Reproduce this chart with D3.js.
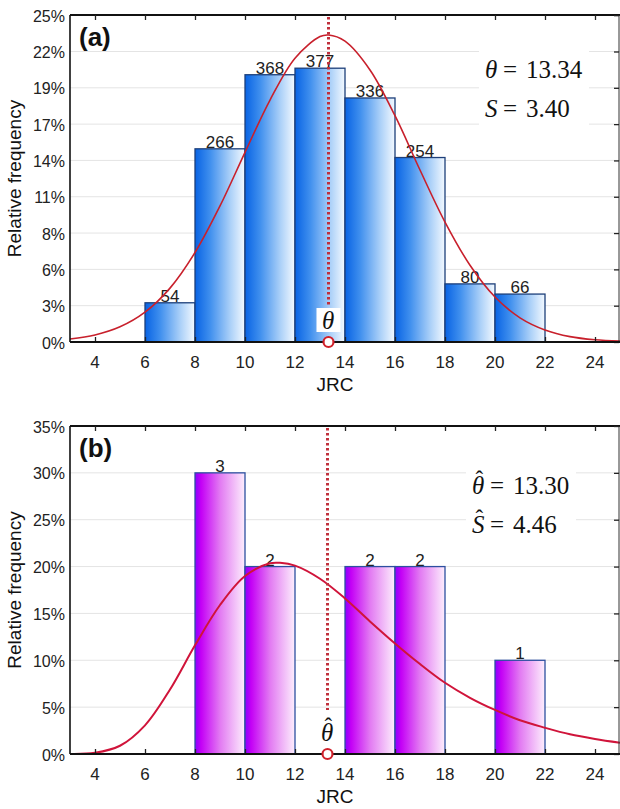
<!DOCTYPE html>
<html>
<head>
<meta charset="utf-8">
<script src="https://cdn.jsdelivr.net/npm/d3@7"></script>
<style>
  body { margin: 0; background: #fff; }
  svg { display: block; }
  .tick-lab { font-family: "Liberation Sans Narrow", "Arial Narrow", "Liberation Sans", sans-serif; fill: #222; }
  .ax-title { font-family: "Liberation Sans", Arial, sans-serif; fill: #111; }
  .note { font-family: "Liberation Serif", "Times New Roman", serif; fill: #111; }
</style>
</head>
<body>
<svg id="fig" width="620" height="809"></svg>
<script>
// ---- data ----
const xTicks = [4, 6, 8, 10, 12, 14, 16, 18, 20, 22, 24];

// panel (a): JRC of all profiles, bin width 2
const binStartsA = [6, 8, 10, 12, 14, 16, 18, 20];
const countsA = [54, 266, 368, 377, 336, 254, 80, 66];
const totalA = 1801;
const yTickCountsA = [0, 50, 100, 150, 200, 250, 300, 350, 400, 450];
// fitted curve (relative frequency, %)
const curveXA = [3, 4, 5, 6, 7, 8, 9, 10, 11, 12, 13, 13.34, 14, 15, 16, 17, 18, 19, 20, 21, 22, 23, 24, 25];
const curveYA = [0.23, 0.54, 1.16, 2.28, 4.12, 6.84, 10.4, 14.5, 18.5, 21.7, 23.35, 23.47, 23.0, 20.8, 17.3, 13.15, 9.17, 5.87, 3.44, 1.85, 0.92, 0.41, 0.17, 0.07];
const thetaA = 13.34, sA = 3.40;

// panel (b): sample of 10 profiles
const binStartsB = [8, 10, 14, 16, 20];
const countsB = [3, 2, 2, 2, 1];
const totalB = 10;
const yTicksB = [0, 5, 10, 15, 20, 25, 30, 35];
const curveXB = [3, 4, 5, 6, 7, 8, 9, 10, 11, 11.4, 12, 13, 14, 15, 16, 17, 18, 19, 20, 21, 22, 23, 24, 25];
const curveYB = [0.01, 0.13, 0.88, 3.06, 6.88, 11.6, 15.9, 19.0, 20.35, 20.4, 20.1, 18.7, 16.6, 14.15, 11.8, 9.6, 7.6, 6.0, 4.7, 3.6, 2.8, 2.1, 1.6, 1.2];
const thetaB = 13.30, sB = 4.46;

const svg = d3.select("#fig");
const defs = svg.append("defs");

function grad(id, stops) {
    let g = defs.append("linearGradient").attr("id", id)
        .attr("x1", 0).attr("x2", 1).attr("y1", 0).attr("y2", 0);
    stops.forEach(s => g.append("stop").attr("offset", s[0]).attr("stop-color", s[1]));
}
grad("gBlue", [[0, "#0863e4"], [0.3, "#3f8fee"], [0.7, "#a9cff8"], [1, "#f3f9ff"]]);
grad("gPink", [[0, "#8a00ff"], [0.12, "#c400f6"], [0.5, "#e27af2"], [1, "#fdeefd"]]);

const xScale = d3.scaleLinear().domain([3, 25]).range([70, 620]);

// italic letter with an optional hat, written as tspans of one text
function symbol(t, letter, x, y, hat) {
    t.append("tspan").attr("x", x).attr("y", y)
        .style("font-style", "italic").text(letter);
    if (hat) {
        t.append("tspan").attr("x", x + 3.6).attr("y", y - 7)
            .style("font-size", "23px").text("\u02c6");
    }
}

function panel(o) {
    let g = svg.append("g");
    let y = o.yScale;
    let top = y.range()[1], bot = y.range()[0];

    // grid
    g.selectAll(".grid").data(o.yTicks).enter().append("line")
        .attr("x1", 70).attr("x2", 620)
        .attr("y1", d => y(d)).attr("y2", d => y(d))
        .style("stroke", "#e4e4e4").style("stroke-width", 1);

    // bars
    g.selectAll(".bar").data(o.bins).enter().append("rect")
        .attr("x", (d, i) => xScale(d))
        .attr("y", (d, i) => y(o.counts[i] / o.total * 100))
        .attr("width", d => xScale(d + 2) - xScale(d))
        .attr("height", (d, i) => bot - y(o.counts[i] / o.total * 100))
        .style("fill", `url(#${o.fill})`)
        .style("stroke", o.stroke)
        .style("stroke-width", 1.3);

    // counts above bars
    g.selectAll(".cnt").data(o.bins).enter().append("text")
        .attr("class", "tick-lab")
        .attr("x", d => xScale(d + 1))
        .attr("y", (d, i) => y(o.counts[i] / o.total * 100) - 1)
        .attr("text-anchor", "middle")
        .style("font-size", "17px")
        .text((d, i) => o.counts[i]);

    // fitted curve
    let line = d3.line()
        .x((d, i) => xScale(o.cx[i]))
        .y(d => y(d))
        .curve(d3.curveCatmullRom);
    g.append("path").datum(o.cy)
        .attr("d", line)
        .style("fill", "none")
        .style("stroke", o.curveColor)
        .style("stroke-width", o.curveWidth);

    // theta marker
    let tx = xScale(o.theta);
    g.append("line")
        .attr("x1", tx).attr("x2", tx)
        .attr("y1", top + 2).attr("y2", o.dotEnd)
        .style("stroke", "#c0303c").style("stroke-width", 3)
        .style("stroke-dasharray", "2.5,2.5");

    // axes frame
    g.append("line").attr("x1", 70).attr("x2", 620).attr("y1", top).attr("y2", top)
        .style("stroke", "#111").style("stroke-width", 2);
    g.append("line").attr("x1", 70).attr("x2", 70).attr("y1", top).attr("y2", bot)
        .style("stroke", "#111").style("stroke-width", 1.6);
    g.append("line").attr("x1", 619).attr("x2", 619).attr("y1", top).attr("y2", bot)
        .style("stroke", "#333").style("stroke-width", 1);

    let xAxisB = g.append("g").attr("transform", `translate(0,${bot})`)
        .call(d3.axisBottom(xScale).tickValues(xTicks).tickSize(-5).tickFormat(""));
    let xAxisT = g.append("g").attr("transform", `translate(0,${top})`)
        .call(d3.axisTop(xScale).tickValues(xTicks).tickSize(-5).tickFormat(""));
    let yAxisR = g.append("g").attr("transform", `translate(619,0)`)
        .call(d3.axisRight(y).tickValues(o.yTicks).tickSize(-5).tickFormat(""));
    [xAxisB, xAxisT, yAxisR].forEach(a => {
        a.select(".domain").remove();
        a.selectAll("line").style("stroke", "#222").style("stroke-width", 1.3);
    });
    g.append("line").attr("x1", 70).attr("x2", 620).attr("y1", bot).attr("y2", bot)
        .style("stroke", "#111").style("stroke-width", 2.2);

    // tick labels
    g.selectAll(".yl").data(o.yTicks).enter().append("text")
        .attr("class", "tick-lab")
        .attr("x", 65).attr("y", d => y(d) + 1)
        .attr("dy", "0.35em")
        .attr("text-anchor", "end")
        .style("font-size", "16px")
        .text(d => Math.round(d) + "%");
    g.selectAll(".xl").data(xTicks).enter().append("text")
        .attr("class", "tick-lab")
        .attr("x", d => xScale(d)).attr("y", bot + 26)
        .attr("text-anchor", "middle")
        .style("font-size", "17px")
        .text(d => d);

    // titles
    g.append("text").attr("class", "ax-title")
        .attr("x", 335).attr("y", bot + 49)
        .attr("text-anchor", "middle")
        .style("font-size", "19px")
        .text("JRC");
    g.append("text").attr("class", "ax-title")
        .attr("transform", `translate(21,${(top + bot) / 2}) rotate(-90)`)
        .attr("text-anchor", "middle")
        .style("font-size", "19px")
        .text("Relative frequency");
    g.append("text").attr("class", "ax-title")
        .attr("x", 79).attr("y", top + 31)
        .style("font-size", "26px").style("font-weight", "bold")
        .text(o.tag);

    // theta label under the dotted line
    g.append("rect")
        .attr("x", tx - 12).attr("y", o.dotEnd + 2)
        .attr("width", 24).attr("height", bot - o.dotEnd - 12)
        .style("fill", "#fff");
    let tl = g.append("text").attr("class", "note").style("font-size", "25px");
    symbol(tl, "\u03b8", tx - 6.5, bot - 13, o.hat);
    g.append("circle")
        .attr("cx", tx).attr("cy", bot)
        .attr("r", 5)
        .style("fill", "#fff")
        .style("stroke", "#d0202a").style("stroke-width", 2.2);

    // estimate box
    let bx = o.noteX, by = o.noteY;
    g.append("rect")
        .attr("x", bx - 6).attr("y", by - 27)
        .attr("width", 110).attr("height", 74)
        .style("fill", "#fff");
    [["\u03b8", o.theta, by], ["S", o.s, by + 39]].forEach(r => {
        let t = g.append("text").attr("class", "note").style("font-size", "25px");
        symbol(t, r[0], bx, r[2], o.hat);
        t.append("tspan").attr("x", bx + 18).attr("y", r[2]).text("=");
        t.append("tspan").attr("x", bx + 41).attr("y", r[2]).text(r[1].toFixed(2));
    });
}

panel({
    tag: "(a)",
    yScale: d3.scaleLinear().domain([0, 25]).range([342, 15]),
    yTicks: yTickCountsA.map(c => c / totalA * 100),
    bins: binStartsA, counts: countsA, total: totalA,
    fill: "gBlue", stroke: "#1d3f7a",
    cx: curveXA, cy: curveYA, curveColor: "#c8202c", curveWidth: 1.6,
    theta: thetaA, s: sA, dotEnd: 306, hat: false,
    noteX: 485, noteY: 78
});

panel({
    tag: "(b)",
    yScale: d3.scaleLinear().domain([0, 35]).range([754, 426]),
    yTicks: yTicksB,
    bins: binStartsB, counts: countsB, total: totalB,
    fill: "gPink", stroke: "#2d4fa0",
    cx: curveXB, cy: curveYB, curveColor: "#d0143a", curveWidth: 2,
    theta: thetaB, s: sB, dotEnd: 710, hat: true,
    noteX: 472, noteY: 494
});
</script>
</body>
</html>
